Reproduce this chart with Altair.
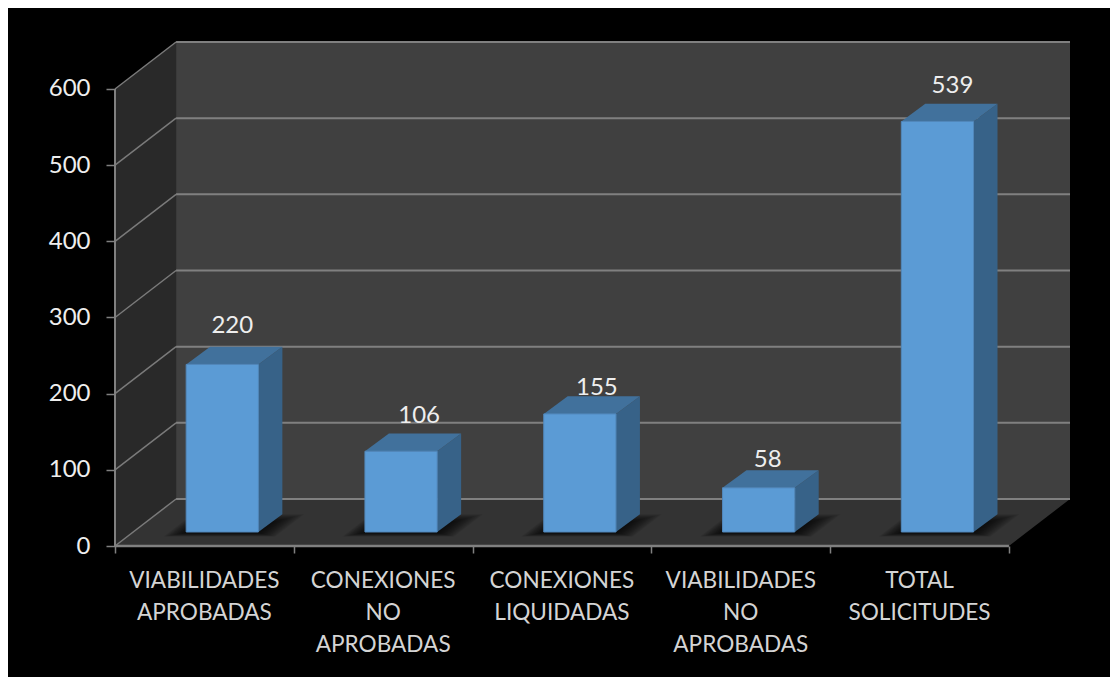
import altair as alt
import pandas as pd

categories = ["VIABILIDADES\nAPROBADAS", "CONEXIONES\nNO\nAPROBADAS", "CONEXIONES\nLIQUIDADAS",
              "VIABILIDADES\nNO\nAPROBADAS", "TOTAL\nSOLICITUDES"]
values = [220, 106, 155, 58, 539]
y_ticks = [0, 100, 200, 300, 400, 500, 600]
x_ticks = [0, 1, 2, 3, 4, 5]

# 3D projection, in data units
DX, DY = 0.3415, 61.7      # full depth of the chart box
FX, FY = 0.10, 18.4        # bar front inset from the front of the floor
BX, BY = 0.134, 23.2       # bar depth
W = 0.404                  # bar width
N = len(values)
XMAX, YMAX = N + DX, 600 + DY
PXU, PYU = 178.6, 0.7617   # pixels per data unit
# small nudges of the value labels (pixels: right, up above the bar's front top)
lab_dx = [10, 18, 17, 9, 15]
lab_dy = [38, 35, 26, 28, 35]

x_s = alt.Scale(domain=[0, XMAX], nice=False, zero=False)
y_s = alt.Scale(domain=[0, YMAX], nice=False, zero=False)


def X(ax=alt.Undefined):
    return alt.X("x:Q", scale=x_s, axis=ax, title=None)


def Y(ax=alt.Undefined):
    return alt.Y("y:Q", scale=y_s, axis=ax, stack=None, title=None)


def area(rows, color, opacity=1.0):
    df = pd.DataFrame(rows, columns=["g", "x", "y", "y2"])
    return alt.Chart(df).mark_area(color=color, opacity=opacity, interpolate="linear").encode(
        x=X(), y=Y(), y2="y2:Q", detail="g:N")


def lines(rows, color, width):
    df = pd.DataFrame(rows, columns=["g", "o", "x", "y"])
    return alt.Chart(df).mark_line(color=color, strokeWidth=width, interpolate="linear").encode(
        x=X(), y=Y(), detail="g:N", order="o:Q")


wall_back = area([(0, DX, DY, YMAX), (0, XMAX, DY, YMAX)], "#404040")
wall_side = area([(0, 0, 0, 600), (0, DX, DY, YMAX)], "#292929")
floor = area([(0, 0, 0, 0), (0, DX, 0, DY), (0, N, 0, DY), (0, XMAX, DY, DY)], "#333333")

grid_back, grid_side = [], []
for t in y_ticks:
    grid_back += [(t, 0, DX, t + DY), (t, 1, XMAX, t + DY)]
    grid_side += [(t, 0, 0, t), (t, 1, DX, t + DY)]
grid_b = lines(grid_back, "#808080", 2)
grid_s = lines(grid_side, "#7a7a7a", 1.5)

# soft shadows on the floor: nested translucent parallelograms
shadows = []
for k in range(12):
    ex = 0.125 - k * 0.0105        # horizontal spread, wide and faint first
    lo = 6.0 - k * 0.42            # spread towards the front
    hi = 0.0 - k * 0.9             # the back edge stays low
    rows = []
    for i in range(N):
        x0 = i + FX + (1 - W) / 2 - ex
        x1 = i + FX + (1 + W) / 2 + ex * 0.75
        ylo, yhi = FY - lo, FY + BY + hi
        sx = (yhi - ylo) / DY * DX
        rows += [(i, x0, ylo, ylo), (i, x0 + sx, ylo, yhi), (i, x1, ylo, yhi), (i, x1 + sx, yhi, yhi)]
    shadows.append(area(rows, "#000000", 0.085))

side_rows, top_rows, front_rows, label_rows = [], [], [], []
for i, v in enumerate(values):
    xl = i + FX + (1 - W) / 2
    xr = xl + W
    side_rows += [(i, xr, FY, FY + v), (i, xr + BX, FY + BY, FY + BY + v)]
    top_rows += [(i, xl, FY + v, FY + v), (i, xl + BX, FY + v, FY + v + BY),
                 (i, xr, FY + v, FY + v + BY), (i, xr + BX, FY + v + BY, FY + v + BY)]
    front_rows.append({"x": xl, "x2": xr, "y": FY, "y2": FY + v})
    label_rows.append({"x": (xl + xr) / 2 + lab_dx[i] / PXU, "y": FY + v + lab_dy[i] / PYU, "t": str(v)})

side = area(side_rows, "#376288")
top = area(top_rows, "#41719c")
front = alt.Chart(pd.DataFrame(front_rows)).mark_rect(color="#5b9bd5", stroke="#5288bb", strokeWidth=1).encode(
    x=X(), x2="x2:Q", y=Y(), y2="y2:Q")

FONT = "Lato"
value_labels = alt.Chart(pd.DataFrame(label_rows)).mark_text(
    font=FONT, fontSize=24, color="#eeeeee", align="center", baseline="middle").encode(
    x=X(), y=Y(), text="t:N")

cat_df = pd.DataFrame({"x": [i + 0.5 for i in range(N)], "y": [0] * N, "t": categories})
cat_labels = alt.Chart(cat_df).mark_text(
    font=FONT, fontSize=22.6, color="#d4d4d4", align="center", baseline="top",
    lineBreak="\n", lineHeight=32, dy=24).encode(x=X(), y=Y(), text="t:N")

front_x = lines([(0, 0, 0, 0), (0, 1, N, 0)], "#808080", 2.5)
front_y = lines([(0, 0, 0, 0), (0, 1, 0, 600)], "#808080", 2)

axis_base = alt.Chart(pd.DataFrame({"x": [0], "y": [0]})).mark_point(opacity=0).encode(
    x=X(alt.Axis(values=x_ticks, labels=False, domain=False, grid=False,
                 tickSize=7, tickColor="#808080", tickWidth=1.5)),
    y=Y(alt.Axis(values=y_ticks, domain=False, grid=False, tickSize=9,
                 tickColor="#808080", tickWidth=1.5, labelColor="#eeeeee", labelFont=FONT,
                 labelFontSize=24, labelPadding=16, labelBaseline="middle")),
)

chart = alt.layer(
    axis_base, wall_back, wall_side, floor, grid_b, grid_s, *shadows,
    side, top, front, front_x, front_y, value_labels, cat_labels,
).properties(
    width=955, height=504,
    background="#000000",
    padding={"left": 107, "top": 34, "right": 40, "bottom": 131},
    autosize=alt.AutoSizeParams(type="none"),
).configure_view(stroke=None)

chart.save("out.html", embed_options={"renderer": "svg", "actions": False})
